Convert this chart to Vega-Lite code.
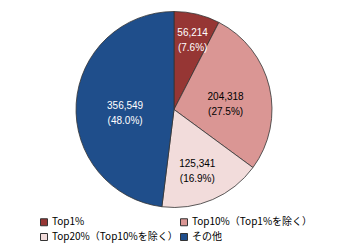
{
  "$schema": "https://vega.github.io/schema/vega-lite/v6.json",
  "width": 348,
  "height": 219,
  "autosize": {"type": "none"},
  "padding": {"left": 0, "top": 0, "right": 2, "bottom": 31},
  "background": "white",
  "config": {"view": {"stroke": null}},
  "data": {
    "values": [
      {"cat": "Top1%", "value": 56214, "label": "56,214\n(7.6%)", "order": 1},
      {"cat": "Top10%（Top1%を除く）", "value": 204318, "label": "204,318\n(27.5%)", "order": 2},
      {"cat": "Top20%（Top10%を除く）", "value": 125341, "label": "125,341\n(16.9%)", "order": 3},
      {"cat": "その他", "value": 356549, "label": "356,549\n(48.0%)", "order": 4}
    ]
  },
  "encoding": {
    "theta": {"field": "value", "type": "quantitative", "stack": true},
    "order": {"field": "order", "type": "quantitative"}
  },
  "layer": [
    {
      "mark": {"type": "arc", "outerRadius": 98, "stroke": "#333333", "strokeWidth": 0.8},
      "encoding": {
        "color": {
          "field": "cat",
          "type": "nominal",
          "sort": null,
          "scale": {
            "domain": ["Top1%", "Top10%（Top1%を除く）", "Top20%（Top10%を除く）", "その他"],
            "range": ["#963634", "#DA9694", "#F2DCDB", "#1F4E8B"]
          },
          "legend": {
            "orient": "none",
            "direction": "horizontal",
            "legendX": 39,
            "legendY": 217,
            "columns": 2,
            "title": null,
            "padding": 0,
            "symbolType": "square",
            "symbolSize": 49,
            "symbolStrokeColor": "#333333",
            "symbolStrokeWidth": 1,
            "labelFont": "Noto Sans CJK JP",
            "labelFontSize": 10,
            "labelColor": "black",
            "labelOffset": 3,
            "rowPadding": 3,
            "columnPadding": 0
          }
        }
      }
    },
    {
      "mark": {
        "type": "text",
        "font": "Liberation Sans",
        "fontSize": 10,
        "lineBreak": "\n",
        "lineHeight": 15,
        "align": "center",
        "baseline": "middle"
      },
      "encoding": {
        "text": {"field": "label", "type": "nominal"},
        "radius": {"value": {"expr": "datum.order == 1 ? 79 : datum.order == 2 ? 53 : datum.order == 3 ? 59 : 49"}},
        "color": {
          "condition": {"test": "datum.order == 1 || datum.order == 4", "value": "white"},
          "value": "black"
        }
      }
    }
  ]
}
